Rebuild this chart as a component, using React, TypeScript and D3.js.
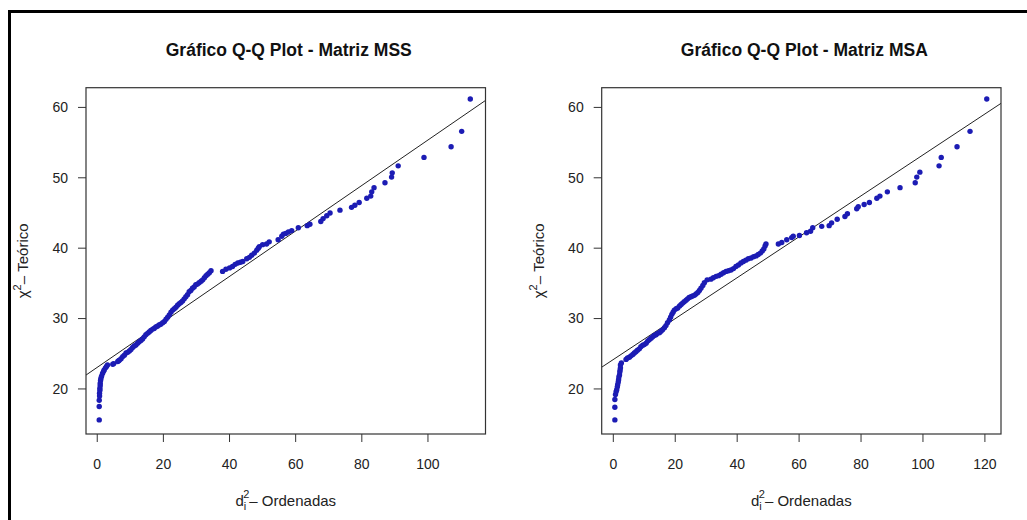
import React from 'react';
import * as d3 from 'd3';

// tick labels
const yTicks = [20, 30, 40, 50, 60];
const mssTicks = [0, 20, 40, 60, 80, 100];
const msaTicks = [0, 20, 40, 60, 80, 100, 120];

// ordered d_i^2 (x) vs theoretical chi^2 quantile (y)
const mssPoints: [number, number][] = [
  [0.6, 15.6], [0.6, 17.5], [0.6, 18.4], [0.7, 19.0], [0.7, 19.4], [0.8, 19.8], [0.8, 20.1], [0.9, 20.5],
  [0.9, 20.8], [1.0, 21.2], [1.1, 21.5], [1.3, 21.8], [1.6, 22.2], [1.9, 22.5], [2.1, 22.7], [2.5, 23.0],
  [2.8, 23.2], [3.1, 23.4], [4.7, 23.5], [5.0, 23.6], [6.2, 23.9], [6.5, 24.0], [6.7, 24.1], [7.2, 24.3],
  [7.7, 24.6], [8.2, 24.8], [8.7, 25.1], [9.2, 25.2], [9.7, 25.4], [10.2, 25.6], [10.7, 25.9], [11.2, 26.1],
  [11.7, 26.25], [12.2, 26.5], [12.7, 26.7], [13.2, 26.9], [13.7, 27.1], [14.2, 27.4], [14.7, 27.7], [15.2, 27.9],
  [15.7, 28.1], [16.2, 28.3], [16.8, 28.5], [17.2, 28.6], [17.7, 28.8], [18.2, 28.9], [18.7, 29.1], [19.2, 29.2],
  [19.8, 29.4], [20.3, 29.6], [20.8, 29.9], [21.3, 30.2], [21.8, 30.5], [22.3, 30.9], [22.8, 31.2], [23.3, 31.4],
  [23.8, 31.6], [24.3, 31.9], [24.8, 32.1], [25.3, 32.3], [25.8, 32.5], [26.3, 32.8], [26.8, 33.1], [27.3, 33.4],
  [27.8, 33.8], [28.3, 34.0], [28.8, 34.3], [29.3, 34.5], [29.8, 34.8], [30.3, 34.9], [30.8, 35.1], [31.4, 35.3],
  [31.9, 35.5], [32.4, 35.8], [32.9, 36.1], [33.4, 36.3], [33.9, 36.5], [34.4, 36.8],
  [37.9, 36.7], [38.9, 37.0], [40.0, 37.2], [40.9, 37.4], [41.7, 37.7], [42.5, 37.9], [43.3, 38.0], [44.0, 38.1],
  [45.2, 38.5], [46.0, 38.7], [46.7, 39.0], [47.5, 39.3], [48.2, 39.7], [48.7, 40.0], [49.0, 40.2], [50.0, 40.5],
  [51.2, 40.6], [52.0, 40.9], [54.7, 41.2], [55.8, 41.7], [56.3, 42.0], [57.0, 42.1], [57.8, 42.3], [58.8, 42.5],
  [60.8, 42.9], [63.5, 43.2], [64.3, 43.4], [67.6, 43.8], [68.3, 44.2], [69.4, 44.6], [70.4, 45.0], [73.4, 45.4],
  [76.9, 45.8], [77.9, 46.1], [79.2, 46.5], [81.5, 47.1], [82.7, 47.4], [83.0, 48.0], [83.7, 48.6], [87.0, 49.3],
  [89.0, 50.1], [89.2, 50.7], [91.0, 51.7], [98.8, 52.9], [107.0, 54.4], [110.2, 56.6], [112.8, 61.2],
];

const msaPoints: [number, number][] = [
  [0.5, 15.6], [0.5, 17.4], [0.5, 18.5], [0.7, 19.2], [0.9, 19.6], [1.1, 19.9], [1.3, 20.3], [1.4, 20.6],
  [1.6, 21.0], [1.7, 21.3], [1.8, 21.7], [2.0, 22.0], [2.1, 22.4], [2.2, 22.7], [2.3, 23.0], [2.3, 23.4],
  [2.6, 23.7], [4.1, 24.2], [4.6, 24.4], [5.2, 24.5], [5.7, 24.7], [6.3, 24.9], [6.8, 25.1], [7.3, 25.3],
  [7.8, 25.5], [8.4, 25.7], [8.9, 26.0], [9.5, 26.2], [10.0, 26.3], [10.6, 26.5], [11.1, 26.8], [11.6, 27.0],
  [12.2, 27.2], [12.7, 27.4], [13.2, 27.6], [13.8, 27.7], [14.3, 27.9], [14.9, 28.0], [15.4, 28.2], [15.9, 28.4],
  [16.5, 28.7], [17.0, 29.0], [17.5, 29.4], [18.1, 29.8], [18.5, 30.2], [18.9, 30.6], [19.3, 30.9], [19.7, 31.2],
  [20.3, 31.4], [20.8, 31.5], [21.4, 31.8], [21.9, 32.0], [22.4, 32.2], [22.9, 32.4], [23.5, 32.6], [24.0, 32.8],
  [24.5, 33.0], [25.1, 33.1], [25.6, 33.2], [26.2, 33.3], [26.7, 33.5], [27.3, 33.7], [27.8, 34.0], [28.3, 34.3],
  [28.9, 34.7], [29.4, 35.1], [30.3, 35.5], [31.5, 35.6], [32.3, 35.8], [33.2, 36.0], [34.0, 36.1], [34.8, 36.3],
  [35.6, 36.5], [36.4, 36.7], [37.2, 36.8], [38.0, 36.9], [38.8, 37.1], [39.6, 37.4], [40.4, 37.6], [41.2, 37.9],
  [42.0, 38.1], [42.8, 38.3], [43.6, 38.5], [44.5, 38.6], [45.3, 38.8], [46.1, 38.9], [46.8, 39.1], [47.5, 39.3],
  [48.1, 39.6], [48.6, 39.9], [49.0, 40.3], [49.3, 40.6],
  [53.3, 40.6], [54.4, 40.8], [56.0, 41.2], [57.6, 41.5], [58.1, 41.7], [60.1, 41.8], [62.4, 42.2], [63.7, 42.4],
  [64.4, 42.9], [67.3, 43.1], [69.7, 43.2], [70.5, 43.6], [72.3, 44.1], [74.8, 44.5], [75.6, 44.9], [78.6, 45.6],
  [79.1, 45.9], [81.0, 46.2], [82.7, 46.5], [85.1, 47.1], [86.1, 47.4], [88.5, 48.0], [92.6, 48.6], [97.5, 49.3],
  [98.0, 50.1], [99.0, 50.8], [105.2, 51.7], [105.9, 52.9], [111.0, 54.4], [115.2, 56.6], [120.6, 61.2],
];

// reference lines (intercept, slope)
const mssLine = [23.07, 0.323];
const msaLine = [24.18, 0.2907];

const FONT = '"Liberation Sans", Arial, Helvetica, sans-serif';
const W = 1027;
const H = 520;
const TOP = 87.7;
const BOTTOM = 434;

type PanelProps = {
  id: string;
  title: string;
  points: [number, number][];
  ticks: number[];
  xDomain: [number, number];
  line: number[];
  left: number;
  right: number;
};

const Panel = ({ id, title, points, ticks, xDomain, line, left, right }: PanelProps) => {
  const x = d3.scaleLinear().domain(xDomain).range([left, right]);
  const y = d3.scaleLinear().domain([13.6, 62.8]).range([BOTTOM, TOP]);
  const cx = (left + right) / 2;
  const cy = (TOP + BOTTOM) / 2;
  const [a, b] = line;
  const lineGen = d3.line<number>().x(d => x(d)).y(d => y(a + b * d));

  return (
    <g>
      <defs>
        <clipPath id={id}>
          <rect x={left} y={TOP} width={right - left} height={BOTTOM - TOP} />
        </clipPath>
      </defs>
      <text x={cx + 3} y={56} textAnchor="middle" fontFamily={FONT} fontWeight="bold" fontSize={17.5} fill="#111">
        {title}
      </text>

      {/* qq reference line, clipped to the plot region */}
      <path d={lineGen(xDomain) || ''} stroke="#222" strokeWidth={1} fill="none" clipPath={`url(#${id})`} />

      {points.map((p, i) => (
        <circle key={i} cx={x(p[0])} cy={y(p[1])} r={2.7} fill="#1c1cb4" />
      ))}

      <rect x={left} y={TOP} width={right - left} height={BOTTOM - TOP} fill="none" stroke="#333" strokeWidth={1.2} />

      {/* x axis */}
      {ticks.map(t => (
        <g key={t}>
          <line x1={x(t)} x2={x(t)} y1={BOTTOM} y2={BOTTOM + 8} stroke="#333" />
          <text x={x(t)} y={469} textAnchor="middle" fontFamily={FONT} fontSize={14} fill="#222">{t}</text>
        </g>
      ))}
      {/* y axis */}
      {yTicks.map(t => (
        <g key={t}>
          <line x1={left - 8} x2={left} y1={y(t)} y2={y(t)} stroke="#333" />
          <text x={left - 18} y={y(t)} dy="0.35em" textAnchor="end" fontFamily={FONT} fontSize={14} fill="#222">{t}</text>
        </g>
      ))}

      <text x={cx} y={506} textAnchor="middle" fontFamily={FONT} fontSize={15} fill="#222">
        <tspan>d</tspan>
        <tspan dy={4} fontSize={11}>i</tspan>
        <tspan dx={-3} dy={-12} fontSize={11}>2</tspan>
        <tspan dy={8}>{'\u2013 Ordenadas'}</tspan>
      </text>
      <text
        transform={`translate(${left - 58},${cy}) rotate(-90)`}
        textAnchor="middle"
        fontFamily={FONT}
        fontSize={15}
        fill="#222"
      >
        <tspan>{'\u03c7'}</tspan>
        <tspan dy={-7} fontSize={11}>2</tspan>
        <tspan dy={7}>{'\u2013 Teórico'}</tspan>
      </text>
    </g>
  );
};

export default function App() {
  return (
    <div style={{ position: 'fixed', left: 0, top: 0 }}>
      <svg width={W} height={H} style={{ display: 'block', background: '#fff' }}>
        {/* outer frame, right and bottom edges fall outside the picture */}
        <rect x={9.5} y={11.5} width={1040} height={540} fill="none" stroke="#000" strokeWidth={3} />
        <Panel
          id="clip-mss"
          title="Gráfico Q-Q Plot - Matriz MSS"
          points={mssPoints}
          ticks={mssTicks}
          xDomain={[-3.4, 117.4]}
          line={mssLine}
          left={86}
          right={485.5}
        />
        <Panel
          id="clip-msa"
          title="Gráfico Q-Q Plot - Matriz MSA"
          points={msaPoints}
          ticks={msaTicks}
          xDomain={[-3.75, 125.2]}
          line={msaLine}
          left={601.7}
          right={1001}
        />
      </svg>
    </div>
  );
}
